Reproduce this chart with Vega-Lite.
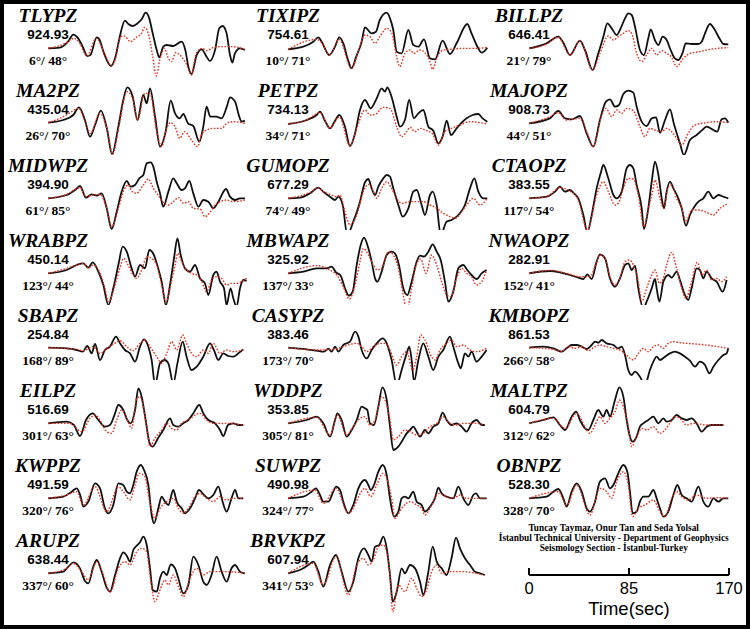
{
"$schema":"https://vega.github.io/schema/vega-lite/v6.json",
"background":"black",
"padding":4,
"config":{"view":{"fill":"white","stroke":null},"line":{"interpolate":"monotone"},"text":{"baseline":"alphabetic","fontWeight":"bold","align":"center"}},
"datasets":{
"lab":[{"p":"TLYPZ","a":"924.93","z":"6°/ 48°"},{"p":"TIXIPZ","a":"754.61","z":"10°/ 71°"},{"p":"BILLPZ","a":"646.41","z":"21°/ 79°"},{"p":"MA2PZ","a":"435.04","z":"26°/ 70°"},{"p":"PETPZ","a":"734.13","z":"34°/ 71°"},{"p":"MAJOPZ","a":"908.73","z":"44°/ 51°"},{"p":"MIDWPZ","a":"394.90","z":"61°/ 85°"},{"p":"GUMOPZ","a":"677.29","z":"74°/ 49°"},{"p":"CTAOPZ","a":"383.55","z":"117°/ 54°"},{"p":"WRABPZ","a":"450.14","z":"123°/ 44°"},{"p":"MBWAPZ","a":"325.92","z":"137°/ 33°"},{"p":"NWAOPZ","a":"282.91","z":"152°/ 41°"},{"p":"SBAPZ","a":"254.84","z":"168°/ 89°"},{"p":"CASYPZ","a":"383.46","z":"173°/ 70°"},{"p":"KMBOPZ","a":"861.53","z":"266°/ 58°"},{"p":"EILPZ","a":"516.69","z":"301°/ 63°"},{"p":"WDDPZ","a":"353.85","z":"305°/ 81°"},{"p":"MALTPZ","a":"604.79","z":"312°/ 62°"},{"p":"KWPPZ","a":"491.59","z":"320°/ 76°"},{"p":"SUWPZ","a":"490.98","z":"324°/ 77°"},{"p":"OBNPZ","a":"528.30","z":"328°/ 70°"},{"p":"ARUPZ","a":"638.44","z":"337°/ 60°"},{"p":"BRVKPZ","a":"607.94","z":"341°/ 53°"}],
"span":[{"a":0,"b":170}],
"bar":[{"tk":0,"lab":"0"},{"tk":85,"lab":"85"},{"tk":170,"lab":"170"}],
"ax":[{"s":"Time(sec)"}],
"cr":[{"n":1,"s":"Tuncay Taymaz, Onur Tan and Seda Yolsal"},{"n":2,"s":"İstanbul Technical University - Department of Geophysics"},{"n":3,"s":"Seismology Section - İstanbul-Turkey"}],
"TLYPZo":[{"t":0,"v":-1},{"t":10,"v":1},{"t":17,"v":19},{"t":21.5,"v":40},{"t":25,"v":32},{"t":29.5,"v":4},{"t":33.4,"v":-24},{"t":36,"v":-21},{"t":41.4,"v":32},{"t":43.6,"v":26},{"t":47.6,"v":-16},{"t":53.5,"v":-54},{"t":57,"v":-31},{"t":61,"v":34},{"t":65.4,"v":82},{"t":68.3,"v":72},{"t":72,"v":66},{"t":75.4,"v":72},{"t":79.6,"v":86},{"t":83,"v":106},{"t":85.8,"v":92},{"t":89,"v":44},{"t":92.4,"v":-6},{"t":94.6,"v":-28},{"t":98,"v":4},{"t":100.9,"v":9},{"t":106.5,"v":6},{"t":113.6,"v":19},{"t":116.7,"v":-6},{"t":119.6,"v":-61},{"t":122,"v":-78},{"t":126.4,"v":-21},{"t":130.6,"v":-4},{"t":134.8,"v":-26},{"t":137.7,"v":-39},{"t":142,"v":-6},{"t":145.6,"v":59},{"t":148.4,"v":66},{"t":151.8,"v":44},{"t":154.7,"v":-21},{"t":156.7,"v":-44},{"t":158.9,"v":-16},{"t":163.2,"v":-1},{"t":167.4,"v":-6}],
"TLYPZs":[{"t":0,"v":-1},{"t":16,"v":16},{"t":22,"v":29},{"t":27,"v":14},{"t":33,"v":-24},{"t":41,"v":29},{"t":48,"v":-16},{"t":54,"v":-54},{"t":57,"v":-36},{"t":62,"v":34},{"t":65,"v":36},{"t":70,"v":19},{"t":75,"v":32},{"t":80,"v":47},{"t":82,"v":62},{"t":86,"v":34},{"t":89,"v":-26},{"t":92,"v":-84},{"t":95,"v":-36},{"t":99,"v":-1},{"t":102,"v":-28},{"t":105,"v":-41},{"t":108.5,"v":-14},{"t":113,"v":-24},{"t":118,"v":-51},{"t":122,"v":-81},{"t":126,"v":-16},{"t":131,"v":-1},{"t":135,"v":-8},{"t":140,"v":1},{"t":146,"v":4},{"t":157,"v":4},{"t":167,"v":-4}],
"MA2PZo":[{"t":0,"v":1},{"t":13,"v":9},{"t":21.5,"v":24},{"t":26.3,"v":47},{"t":31.4,"v":9},{"t":35.7,"v":-41},{"t":40,"v":-6},{"t":45,"v":37},{"t":50,"v":-16},{"t":54.4,"v":-93},{"t":59.8,"v":-11},{"t":64,"v":69},{"t":67.4,"v":107},{"t":72,"v":79},{"t":76,"v":9},{"t":81,"v":84},{"t":83.9,"v":59},{"t":86.7,"v":104},{"t":91,"v":19},{"t":95.2,"v":-71},{"t":100,"v":-26},{"t":104.3,"v":67},{"t":108,"v":29},{"t":112,"v":14},{"t":115,"v":27},{"t":119,"v":-1},{"t":123.5,"v":-9},{"t":128.6,"v":-56},{"t":132,"v":-11},{"t":134.8,"v":49},{"t":138,"v":19},{"t":143,"v":19},{"t":147.6,"v":14},{"t":152,"v":49},{"t":154.7,"v":77},{"t":159,"v":64},{"t":162.6,"v":19},{"t":164.6,"v":4},{"t":167.4,"v":7}],
"MA2PZs":[{"t":0,"v":1},{"t":13,"v":19},{"t":20,"v":34},{"t":26,"v":44},{"t":31,"v":9},{"t":36,"v":-31},{"t":44,"v":29},{"t":50,"v":-16},{"t":55,"v":-93},{"t":60,"v":-16},{"t":67,"v":94},{"t":72.5,"v":69},{"t":76,"v":9},{"t":82.4,"v":89},{"t":86.7,"v":89},{"t":92.4,"v":-26},{"t":96.6,"v":-71},{"t":100.9,"v":-16},{"t":104,"v":1},{"t":108,"v":-11},{"t":112,"v":-46},{"t":116,"v":-26},{"t":122,"v":-51},{"t":127,"v":-71},{"t":131,"v":-31},{"t":135,"v":-21},{"t":140.5,"v":-16},{"t":147.6,"v":-16},{"t":152,"v":-1},{"t":157.5,"v":4},{"t":167.4,"v":-1}],
"TIXIPZo":[{"t":0,"v":-4},{"t":13,"v":4},{"t":21.5,"v":19},{"t":25.8,"v":32},{"t":28.6,"v":19},{"t":35,"v":-21},{"t":40,"v":4},{"t":43.6,"v":32},{"t":47,"v":14},{"t":51,"v":-36},{"t":54,"v":-61},{"t":58,"v":-26},{"t":62.6,"v":19},{"t":65.4,"v":62},{"t":71,"v":44},{"t":74.8,"v":49},{"t":78,"v":84},{"t":83.9,"v":106},{"t":86.7,"v":89},{"t":89.5,"v":54},{"t":92.4,"v":-11},{"t":96.6,"v":-16},{"t":102.3,"v":54},{"t":106.5,"v":9},{"t":110.8,"v":4},{"t":115.6,"v":26},{"t":120.7,"v":-31},{"t":125,"v":-34},{"t":131.4,"v":22},{"t":137.7,"v":-18},{"t":143.3,"v":14},{"t":152.4,"v":72},{"t":156,"v":44},{"t":160.3,"v":9},{"t":164.6,"v":-14},{"t":169.4,"v":1}],
"TIXIPZs":[{"t":0,"v":-4},{"t":24.4,"v":26},{"t":28.6,"v":16},{"t":35,"v":-21},{"t":43.6,"v":26},{"t":54,"v":-61},{"t":61,"v":4},{"t":65.4,"v":39},{"t":69.7,"v":34},{"t":74,"v":14},{"t":78,"v":34},{"t":83.9,"v":59},{"t":88,"v":47},{"t":92.4,"v":-26},{"t":95,"v":-56},{"t":99.4,"v":-16},{"t":103.7,"v":-6},{"t":107,"v":-16},{"t":112,"v":-6},{"t":116.4,"v":-14},{"t":120.7,"v":-41},{"t":123,"v":-64},{"t":126.4,"v":-31},{"t":132,"v":-6},{"t":137.7,"v":-4},{"t":149,"v":-1},{"t":160.3,"v":-1},{"t":169.4,"v":2}],
"PETPZo":[{"t":0,"v":-3},{"t":15.9,"v":9},{"t":24.4,"v":24},{"t":27.2,"v":34},{"t":31.4,"v":7},{"t":35.7,"v":-16},{"t":40,"v":7},{"t":43.6,"v":24},{"t":48.4,"v":-11},{"t":52.7,"v":-69},{"t":57,"v":-31},{"t":61.2,"v":39},{"t":65.4,"v":69},{"t":70.3,"v":44},{"t":75.4,"v":74},{"t":79.6,"v":104},{"t":82.4,"v":94},{"t":84.4,"v":107},{"t":88,"v":79},{"t":92.4,"v":19},{"t":95.2,"v":-11},{"t":99.4,"v":9},{"t":103,"v":69},{"t":107,"v":14},{"t":110.8,"v":29},{"t":115,"v":39},{"t":119.3,"v":-11},{"t":123.5,"v":-23},{"t":127.8,"v":-61},{"t":131.4,"v":-41},{"t":134.9,"v":7},{"t":138.5,"v":-36},{"t":143.3,"v":-16},{"t":151.8,"v":14},{"t":157,"v":24},{"t":161.8,"v":27},{"t":165.4,"v":14},{"t":169.4,"v":4}],
"PETPZs":[{"t":0,"v":-3},{"t":15.9,"v":9},{"t":27.2,"v":31},{"t":35.7,"v":-16},{"t":43.6,"v":19},{"t":52.7,"v":-69},{"t":58.4,"v":-16},{"t":65.4,"v":39},{"t":69.7,"v":24},{"t":74.8,"v":27},{"t":80.5,"v":47},{"t":86.7,"v":44},{"t":92.4,"v":-11},{"t":96.6,"v":-41},{"t":100.9,"v":-26},{"t":103.7,"v":-13},{"t":108,"v":-26},{"t":112.2,"v":-16},{"t":117.8,"v":-23},{"t":123,"v":-33},{"t":127.8,"v":-66},{"t":133.4,"v":-26},{"t":139,"v":-16},{"t":146.2,"v":-6},{"t":154.7,"v":4},{"t":163.2,"v":1},{"t":169.4,"v":-3}],
"BILLPZo":[{"t":0,"v":-1},{"t":15,"v":14},{"t":24.9,"v":34},{"t":29.2,"v":16},{"t":34.8,"v":-21},{"t":43.3,"v":22},{"t":47.6,"v":-6},{"t":54.1,"v":-66},{"t":58.9,"v":-16},{"t":63.2,"v":34},{"t":66.6,"v":74},{"t":70.3,"v":59},{"t":74.5,"v":39},{"t":77.9,"v":59},{"t":81.6,"v":89},{"t":84.4,"v":104},{"t":87.3,"v":99},{"t":90.1,"v":64},{"t":94.3,"v":-6},{"t":97.7,"v":-21},{"t":101.4,"v":29},{"t":103.4,"v":56},{"t":107,"v":24},{"t":110,"v":9},{"t":113.6,"v":34},{"t":117,"v":24},{"t":120.4,"v":-6},{"t":124,"v":-31},{"t":127,"v":-36},{"t":130.6,"v":-14},{"t":133.2,"v":14},{"t":138.2,"v":12},{"t":144,"v":12},{"t":146.8,"v":19},{"t":149.6,"v":44},{"t":153.8,"v":72},{"t":158,"v":54},{"t":162.3,"v":26},{"t":165.2,"v":12},{"t":169.4,"v":11}],
"BILLPZs":[{"t":0,"v":-1},{"t":15,"v":12},{"t":24.9,"v":32},{"t":34.8,"v":-21},{"t":43.3,"v":22},{"t":54.1,"v":-66},{"t":60.3,"v":-16},{"t":67.4,"v":36},{"t":71.7,"v":24},{"t":75.9,"v":34},{"t":80.2,"v":44},{"t":84.4,"v":52},{"t":87.3,"v":44},{"t":91.5,"v":-16},{"t":95.8,"v":-41},{"t":100,"v":-21},{"t":104.3,"v":-1},{"t":108.5,"v":-21},{"t":112.8,"v":-8},{"t":117,"v":-16},{"t":121.3,"v":-28},{"t":125.5,"v":-56},{"t":131.2,"v":-31},{"t":136.8,"v":-16},{"t":145.3,"v":-11},{"t":153.8,"v":-4},{"t":169.4,"v":1}],
"MAJOPZo":[{"t":0,"v":-1},{"t":17.8,"v":14},{"t":24.9,"v":36},{"t":30.6,"v":14},{"t":36.3,"v":11},{"t":43.3,"v":21},{"t":49,"v":-31},{"t":54.7,"v":-71},{"t":60.3,"v":9},{"t":65.4,"v":64},{"t":68.8,"v":71},{"t":73.1,"v":49},{"t":76.5,"v":54},{"t":80.2,"v":87},{"t":84.4,"v":97},{"t":88.7,"v":91},{"t":91.5,"v":49},{"t":95.8,"v":4},{"t":100,"v":-9},{"t":104.3,"v":14},{"t":108,"v":17},{"t":111.3,"v":-29},{"t":115.6,"v":9},{"t":119.8,"v":41},{"t":123.2,"v":-3},{"t":128.3,"v":-61},{"t":131.7,"v":-96},{"t":136.8,"v":-51},{"t":142.5,"v":-36},{"t":146.7,"v":-23},{"t":151,"v":-11},{"t":156.7,"v":-21},{"t":160,"v":-26},{"t":163.7,"v":11},{"t":166.6,"v":14},{"t":169.4,"v":1}],
"MAJOPZs":[{"t":0,"v":-1},{"t":17.8,"v":19},{"t":24.9,"v":31},{"t":32,"v":9},{"t":43.3,"v":14},{"t":49.6,"v":-31},{"t":54.7,"v":-71},{"t":61.8,"v":24},{"t":65.4,"v":44},{"t":70.3,"v":19},{"t":74.5,"v":39},{"t":78.8,"v":29},{"t":83,"v":44},{"t":88.7,"v":37},{"t":94.3,"v":-11},{"t":98.6,"v":-41},{"t":102.8,"v":-16},{"t":108.5,"v":-23},{"t":112.8,"v":-26},{"t":117,"v":-16},{"t":121.3,"v":-26},{"t":125.5,"v":-46},{"t":129.8,"v":-66},{"t":135.4,"v":-31},{"t":141,"v":-6},{"t":151,"v":1},{"t":159.5,"v":4},{"t":169.4,"v":1}],
"MIDWPZo":[{"t":0,"v":-1},{"t":15.9,"v":9},{"t":23,"v":24},{"t":27.2,"v":36},{"t":32.3,"v":1},{"t":37.1,"v":11},{"t":41.4,"v":7},{"t":45.6,"v":14},{"t":49.9,"v":-31},{"t":54.1,"v":-93},{"t":58.4,"v":-41},{"t":62.6,"v":19},{"t":66.9,"v":51},{"t":70.3,"v":34},{"t":74,"v":39},{"t":77.6,"v":59},{"t":81,"v":69},{"t":83.9,"v":104},{"t":87.3,"v":107},{"t":89.5,"v":94},{"t":92.4,"v":49},{"t":95.2,"v":14},{"t":98,"v":-26},{"t":102.3,"v":19},{"t":106.5,"v":59},{"t":109.4,"v":44},{"t":113.6,"v":24},{"t":116.4,"v":29},{"t":120.1,"v":51},{"t":123.5,"v":14},{"t":127.8,"v":-26},{"t":132,"v":-6},{"t":136.3,"v":-11},{"t":140.5,"v":-31},{"t":144.8,"v":-11},{"t":151.3,"v":27},{"t":154.7,"v":4},{"t":159,"v":-6},{"t":163.2,"v":-1},{"t":167.4,"v":-1}],
"MIDWPZs":[{"t":0,"v":-1},{"t":15.9,"v":11},{"t":27.2,"v":31},{"t":32.3,"v":4},{"t":38.5,"v":9},{"t":44.2,"v":11},{"t":49.9,"v":-31},{"t":54.1,"v":-86},{"t":59.8,"v":-31},{"t":64.6,"v":24},{"t":68.3,"v":39},{"t":71,"v":21},{"t":75.4,"v":14},{"t":81,"v":39},{"t":85.3,"v":57},{"t":89.5,"v":29},{"t":93.5,"v":9},{"t":98,"v":-13},{"t":102.3,"v":-21},{"t":106.5,"v":-11},{"t":110.8,"v":1},{"t":115,"v":-16},{"t":119.3,"v":-11},{"t":123.5,"v":-31},{"t":129.2,"v":-33},{"t":133.4,"v":-56},{"t":137.7,"v":-43},{"t":142,"v":-21},{"t":146.2,"v":-11},{"t":151.8,"v":-6},{"t":157.5,"v":-11},{"t":167.4,"v":-6}],
"GUMOPZo":[{"t":0,"v":-1},{"t":10.2,"v":1},{"t":18.7,"v":14},{"t":25.8,"v":31},{"t":30,"v":19},{"t":35.7,"v":4},{"t":40,"v":-6},{"t":42.8,"v":4},{"t":46.5,"v":-21},{"t":50.4,"v":-111},{"t":55.5,"v":-71},{"t":61.2,"v":-11},{"t":65.4,"v":47},{"t":68.3,"v":57},{"t":71.1,"v":29},{"t":74,"v":9},{"t":76.8,"v":34},{"t":81,"v":59},{"t":83.9,"v":69},{"t":86.7,"v":64},{"t":89.5,"v":29},{"t":93.8,"v":-21},{"t":97.5,"v":-56},{"t":102.3,"v":-31},{"t":106.5,"v":19},{"t":109.4,"v":24},{"t":113.6,"v":-21},{"t":116.4,"v":-51},{"t":120.7,"v":9},{"t":123,"v":19},{"t":126.4,"v":-21},{"t":129.8,"v":-111},{"t":134.8,"v":-71},{"t":139,"v":-66},{"t":144.8,"v":-51},{"t":150.4,"v":-21},{"t":154.7,"v":29},{"t":158.4,"v":59},{"t":161.8,"v":19},{"t":166,"v":-1},{"t":169.4,"v":-1}],
"GUMOPZs":[{"t":0,"v":-1},{"t":18.7,"v":17},{"t":25.8,"v":31},{"t":30,"v":19},{"t":35.7,"v":11},{"t":41.4,"v":4},{"t":44.2,"v":9},{"t":48.4,"v":-41},{"t":52.7,"v":-81},{"t":58.4,"v":-51},{"t":64,"v":19},{"t":68.3,"v":41},{"t":72.5,"v":19},{"t":75.4,"v":-1},{"t":79.6,"v":29},{"t":83.9,"v":49},{"t":88,"v":29},{"t":92.4,"v":-1},{"t":96.6,"v":-16},{"t":103.7,"v":-11},{"t":109.4,"v":-11},{"t":115,"v":-11},{"t":120.7,"v":-21},{"t":126.4,"v":-31},{"t":132,"v":-46},{"t":137.7,"v":-56},{"t":142,"v":-61},{"t":147.6,"v":-41},{"t":151.8,"v":-21},{"t":157.5,"v":-1},{"t":163.2,"v":-21},{"t":169.4,"v":-1}],
"CTAOPZo":[{"t":0,"v":-1},{"t":15,"v":4},{"t":22.1,"v":19},{"t":26.3,"v":34},{"t":30.6,"v":19},{"t":34.8,"v":24},{"t":38.2,"v":14},{"t":41.9,"v":-1},{"t":46.2,"v":-51},{"t":49.6,"v":-103},{"t":53.3,"v":-51},{"t":57.5,"v":29},{"t":60.9,"v":74},{"t":63.2,"v":99},{"t":67.4,"v":59},{"t":71.7,"v":9},{"t":74.5,"v":-1},{"t":78.8,"v":19},{"t":83,"v":89},{"t":85.8,"v":99},{"t":88.7,"v":89},{"t":91.5,"v":39},{"t":95.8,"v":-31},{"t":97.7,"v":-93},{"t":101.4,"v":-31},{"t":104.3,"v":49},{"t":107.1,"v":109},{"t":110,"v":69},{"t":112.8,"v":-1},{"t":114.7,"v":-31},{"t":117,"v":19},{"t":119.8,"v":49},{"t":122.7,"v":29},{"t":126.9,"v":-1},{"t":129.8,"v":-31},{"t":133.4,"v":-83},{"t":136.8,"v":-51},{"t":139.7,"v":-31},{"t":144,"v":-11},{"t":148.2,"v":-1},{"t":152.4,"v":19},{"t":156.7,"v":-1},{"t":161,"v":9},{"t":165.2,"v":4},{"t":169.4,"v":-1}],
"CTAOPZs":[{"t":0,"v":-1},{"t":15,"v":4},{"t":26.3,"v":31},{"t":34.8,"v":21},{"t":41.9,"v":-6},{"t":49.6,"v":-96},{"t":57.5,"v":9},{"t":63.2,"v":49},{"t":67.4,"v":19},{"t":73.1,"v":-21},{"t":75.9,"v":-16},{"t":80.2,"v":29},{"t":84.4,"v":59},{"t":88.7,"v":57},{"t":92.9,"v":9},{"t":97.7,"v":-86},{"t":101.4,"v":-31},{"t":105.1,"v":19},{"t":107.1,"v":54},{"t":111.3,"v":-1},{"t":114.7,"v":-31},{"t":118.4,"v":34},{"t":121.3,"v":39},{"t":125.5,"v":-1},{"t":129.8,"v":-31},{"t":133.4,"v":-71},{"t":138.2,"v":-36},{"t":144,"v":-36},{"t":149.6,"v":-41},{"t":156.7,"v":-51},{"t":162.3,"v":-31},{"t":169.4,"v":-16}],
"WRABPZo":[{"t":0,"v":-1},{"t":15.9,"v":9},{"t":24.4,"v":24},{"t":30,"v":29},{"t":34.3,"v":16},{"t":38,"v":32},{"t":42.8,"v":4},{"t":47,"v":-36},{"t":51.3,"v":-96},{"t":55.5,"v":-46},{"t":59.8,"v":24},{"t":63.5,"v":79},{"t":66.9,"v":64},{"t":71.1,"v":14},{"t":74,"v":-11},{"t":78.2,"v":24},{"t":82.4,"v":14},{"t":86.1,"v":69},{"t":90,"v":54},{"t":92.8,"v":24},{"t":96.6,"v":-26},{"t":100.3,"v":-96},{"t":103.7,"v":-36},{"t":107.1,"v":44},{"t":110,"v":104},{"t":112.8,"v":54},{"t":116.4,"v":14},{"t":120.7,"v":4},{"t":125,"v":24},{"t":129.2,"v":-16},{"t":133.4,"v":-31},{"t":136.3,"v":-66},{"t":140.5,"v":-6},{"t":143.3,"v":4},{"t":146.2,"v":-26},{"t":149.6,"v":-46},{"t":151.8,"v":-96},{"t":155.2,"v":-46},{"t":157.5,"v":-76},{"t":160.3,"v":-101},{"t":163.2,"v":-46},{"t":166,"v":-21},{"t":168.8,"v":-24}],
"WRABPZs":[{"t":0,"v":-1},{"t":15.9,"v":14},{"t":24.4,"v":24},{"t":30,"v":29},{"t":34.3,"v":14},{"t":38.5,"v":24},{"t":44.2,"v":-1},{"t":48.4,"v":-46},{"t":51.3,"v":-86},{"t":57,"v":-36},{"t":61,"v":14},{"t":64.3,"v":44},{"t":68,"v":24},{"t":72.5,"v":-6},{"t":75.4,"v":-16},{"t":79.6,"v":9},{"t":83.9,"v":49},{"t":88,"v":44},{"t":92.4,"v":24},{"t":96.6,"v":-36},{"t":100.3,"v":-86},{"t":104.3,"v":-36},{"t":108,"v":24},{"t":110.3,"v":59},{"t":113.6,"v":34},{"t":117.8,"v":9},{"t":122,"v":-1},{"t":126.4,"v":-6},{"t":130.6,"v":-26},{"t":134.8,"v":-56},{"t":139,"v":-21},{"t":143.3,"v":-11},{"t":147.6,"v":-16},{"t":151.8,"v":-36},{"t":156,"v":-31},{"t":160.3,"v":-31},{"t":164.6,"v":-26},{"t":168.8,"v":-16}],
"MBWAPZo":[{"t":0,"v":-1},{"t":13,"v":4},{"t":24.4,"v":14},{"t":32.9,"v":14},{"t":37.1,"v":19},{"t":40.8,"v":2},{"t":44.8,"v":-8},{"t":48.4,"v":-46},{"t":51.8,"v":-68},{"t":55,"v":-56},{"t":58.4,"v":24},{"t":61.8,"v":84},{"t":64.6,"v":106},{"t":68.3,"v":74},{"t":71.1,"v":34},{"t":74,"v":-16},{"t":75.9,"v":-26},{"t":79.6,"v":4},{"t":83.9,"v":54},{"t":88,"v":64},{"t":90.9,"v":59},{"t":94.3,"v":24},{"t":98,"v":-46},{"t":101.4,"v":-66},{"t":105.1,"v":-26},{"t":109.4,"v":34},{"t":112.2,"v":52},{"t":115.6,"v":49},{"t":119.3,"v":64},{"t":123,"v":86},{"t":126.4,"v":64},{"t":129.8,"v":39},{"t":133.4,"v":-26},{"t":136.3,"v":-86},{"t":140.5,"v":-56},{"t":144.8,"v":14},{"t":149,"v":24},{"t":152.4,"v":9},{"t":156,"v":-6},{"t":160.3,"v":-18},{"t":164.6,"v":-1},{"t":168.8,"v":9}],
"MBWAPZs":[{"t":0,"v":-1},{"t":24.4,"v":22},{"t":35.7,"v":9},{"t":41.4,"v":-6},{"t":47,"v":-41},{"t":52.1,"v":-78},{"t":57,"v":-36},{"t":61.2,"v":34},{"t":64,"v":74},{"t":68.3,"v":54},{"t":72.5,"v":24},{"t":75.9,"v":9},{"t":79.6,"v":14},{"t":85.3,"v":64},{"t":89.5,"v":54},{"t":93.8,"v":14},{"t":98,"v":-66},{"t":100.9,"v":-111},{"t":105.1,"v":-46},{"t":109.4,"v":29},{"t":112.8,"v":42},{"t":117.3,"v":-1},{"t":122.1,"v":54},{"t":126.4,"v":24},{"t":130.6,"v":-26},{"t":134.8,"v":-66},{"t":138.2,"v":-71},{"t":143.3,"v":-16},{"t":147.6,"v":14},{"t":151.8,"v":-1},{"t":156,"v":-11},{"t":160.3,"v":-36},{"t":164.6,"v":-26},{"t":168.8,"v":9}],
"NWAOPZo":[{"t":0,"v":-1},{"t":17.8,"v":6},{"t":26.3,"v":2},{"t":34.8,"v":-6},{"t":41.9,"v":-14},{"t":46.2,"v":-18},{"t":49.6,"v":-4},{"t":53.3,"v":-18},{"t":57.5,"v":34},{"t":60.3,"v":56},{"t":64.6,"v":44},{"t":68.8,"v":-16},{"t":73.1,"v":-41},{"t":77.3,"v":-16},{"t":81.6,"v":24},{"t":84.4,"v":29},{"t":87.3,"v":9},{"t":90.1,"v":22},{"t":92.9,"v":-46},{"t":97.2,"v":-106},{"t":100,"v":-86},{"t":104.3,"v":-46},{"t":107.1,"v":-18},{"t":108.5,"v":-46},{"t":110.8,"v":-86},{"t":114.2,"v":-26},{"t":118.4,"v":-6},{"t":121.3,"v":-14},{"t":125.5,"v":4},{"t":128.3,"v":-21},{"t":132.6,"v":-66},{"t":135.4,"v":-81},{"t":138.2,"v":-46},{"t":142.5,"v":14},{"t":145.3,"v":9},{"t":148.2,"v":-16},{"t":151,"v":4},{"t":155.2,"v":-16},{"t":159.5,"v":-26},{"t":164.6,"v":-56},{"t":168,"v":-21}],
"NWAOPZs":[{"t":0,"v":-1},{"t":17.8,"v":8},{"t":32,"v":-1},{"t":43.3,"v":-11},{"t":51.8,"v":-11},{"t":57.5,"v":34},{"t":60.3,"v":54},{"t":64.6,"v":44},{"t":68.8,"v":-11},{"t":73.1,"v":-36},{"t":77.3,"v":-16},{"t":81.6,"v":34},{"t":85.3,"v":39},{"t":88.7,"v":24},{"t":92.9,"v":-26},{"t":95.8,"v":-86},{"t":100,"v":-46},{"t":104.3,"v":-6},{"t":107.1,"v":9},{"t":110.8,"v":-31},{"t":114.2,"v":-16},{"t":117,"v":24},{"t":121.3,"v":62},{"t":125.5,"v":14},{"t":129.8,"v":-46},{"t":133.4,"v":-76},{"t":138.2,"v":-26},{"t":143,"v":32},{"t":146.8,"v":-6},{"t":151,"v":9},{"t":155.2,"v":-21},{"t":159.5,"v":-16},{"t":163.7,"v":-26},{"t":168,"v":-11}],
"SBAPZo":[{"t":0,"v":1},{"t":15.9,"v":-1},{"t":24.4,"v":-6},{"t":29.5,"v":-11},{"t":33.4,"v":6},{"t":37.1,"v":-16},{"t":40,"v":12},{"t":44.2,"v":-36},{"t":48.4,"v":-6},{"t":52.7,"v":4},{"t":57.8,"v":34},{"t":61.2,"v":14},{"t":65.4,"v":-6},{"t":69.7,"v":-16},{"t":74,"v":-41},{"t":78.2,"v":4},{"t":81.6,"v":26},{"t":85.3,"v":4},{"t":88.1,"v":-36},{"t":91,"v":-111},{"t":95.2,"v":-46},{"t":99.2,"v":-36},{"t":102.3,"v":-46},{"t":106.5,"v":-106},{"t":110,"v":-46},{"t":114.5,"v":19},{"t":117.8,"v":-26},{"t":122,"v":-66},{"t":126.4,"v":-56},{"t":132,"v":-26},{"t":137.7,"v":14},{"t":141,"v":-6},{"t":144.8,"v":-36},{"t":149,"v":-16},{"t":153.3,"v":-24},{"t":157.5,"v":-26},{"t":161.8,"v":-16},{"t":166,"v":-4}],
"SBAPZs":[{"t":0,"v":1},{"t":24.4,"v":-4},{"t":30,"v":-8},{"t":38.5,"v":4},{"t":44.2,"v":-16},{"t":49.9,"v":-1},{"t":56.7,"v":14},{"t":61.2,"v":22},{"t":66.9,"v":4},{"t":72.5,"v":-8},{"t":78.2,"v":14},{"t":82.4,"v":24},{"t":86.7,"v":4},{"t":92.4,"v":-26},{"t":96.6,"v":-46},{"t":100.9,"v":-16},{"t":105.1,"v":19},{"t":109.4,"v":-6},{"t":114.5,"v":39},{"t":117.8,"v":14},{"t":122,"v":-16},{"t":126.4,"v":-26},{"t":132,"v":-6},{"t":136.3,"v":-16},{"t":140.5,"v":14},{"t":146.2,"v":-16},{"t":151.8,"v":-6},{"t":157.5,"v":-11},{"t":166,"v":-6}],
"EILPZo":[{"t":0,"v":-1},{"t":15.9,"v":4},{"t":22,"v":-6},{"t":27.2,"v":-39},{"t":32.3,"v":9},{"t":38,"v":29},{"t":42.8,"v":9},{"t":48.4,"v":-11},{"t":52.7,"v":-6},{"t":57,"v":29},{"t":59.8,"v":54},{"t":64,"v":39},{"t":67.4,"v":9},{"t":70.3,"v":-1},{"t":74,"v":39},{"t":76.8,"v":104},{"t":79.6,"v":79},{"t":83,"v":9},{"t":86.4,"v":-61},{"t":89,"v":-71},{"t":93.5,"v":-46},{"t":98,"v":-21},{"t":103.7,"v":14},{"t":106.5,"v":-6},{"t":110.8,"v":-11},{"t":115,"v":-1},{"t":119.3,"v":9},{"t":123.5,"v":29},{"t":128.6,"v":54},{"t":132,"v":29},{"t":136.3,"v":9},{"t":142,"v":-1},{"t":146.2,"v":-21},{"t":149,"v":-39},{"t":153,"v":-6},{"t":157.5,"v":-1},{"t":161.8,"v":-6},{"t":166,"v":-6}],
"EILPZs":[{"t":0,"v":-1},{"t":18.4,"v":-1},{"t":28.6,"v":-26},{"t":35.7,"v":14},{"t":40,"v":24},{"t":44.2,"v":9},{"t":49.9,"v":-26},{"t":54.1,"v":-31},{"t":58.4,"v":9},{"t":62.6,"v":39},{"t":66.9,"v":14},{"t":71.1,"v":-16},{"t":75.4,"v":74},{"t":78.2,"v":79},{"t":83.9,"v":-11},{"t":86.7,"v":-71},{"t":90.9,"v":-46},{"t":96.6,"v":-21},{"t":100.9,"v":-1},{"t":105.1,"v":-16},{"t":109.4,"v":-21},{"t":113.6,"v":-1},{"t":119.3,"v":9},{"t":125,"v":24},{"t":129.2,"v":29},{"t":134.8,"v":9},{"t":140.5,"v":-1},{"t":151.8,"v":-1},{"t":166,"v":-6}],
"CASYPZo":[{"t":0,"v":1},{"t":15.9,"v":-4},{"t":24.4,"v":-8},{"t":30.6,"v":-11},{"t":34.3,"v":-2},{"t":37.1,"v":-11},{"t":40,"v":4},{"t":42.8,"v":-11},{"t":47,"v":9},{"t":52.7,"v":19},{"t":57,"v":49},{"t":59.8,"v":34},{"t":62.6,"v":-6},{"t":66.9,"v":-31},{"t":71.1,"v":-6},{"t":75.4,"v":14},{"t":80.5,"v":29},{"t":83.9,"v":14},{"t":88.1,"v":-36},{"t":92.4,"v":-111},{"t":96.6,"v":-66},{"t":100.9,"v":-16},{"t":103.1,"v":4},{"t":105.1,"v":-36},{"t":107.1,"v":-101},{"t":110.8,"v":-36},{"t":115,"v":14},{"t":119.3,"v":-26},{"t":123.5,"v":-66},{"t":127.8,"v":-26},{"t":132,"v":-6},{"t":137.7,"v":34},{"t":140.5,"v":4},{"t":144.8,"v":-46},{"t":146.8,"v":-61},{"t":150.4,"v":-16},{"t":153.3,"v":-26},{"t":156.1,"v":-11},{"t":160.3,"v":-41},{"t":164.6,"v":-26},{"t":168.8,"v":-6}],
"CASYPZs":[{"t":0,"v":1},{"t":24.4,"v":-6},{"t":38.5,"v":-4},{"t":47,"v":4},{"t":52.7,"v":11},{"t":58.4,"v":14},{"t":62.6,"v":4},{"t":66.9,"v":-11},{"t":72.5,"v":4},{"t":78.2,"v":14},{"t":82.4,"v":14},{"t":86.7,"v":-6},{"t":92.4,"v":-51},{"t":96.6,"v":-26},{"t":100.9,"v":-11},{"t":106,"v":-66},{"t":109.4,"v":-26},{"t":112.8,"v":39},{"t":116.4,"v":24},{"t":122,"v":-26},{"t":125,"v":-36},{"t":129.2,"v":-6},{"t":134.8,"v":14},{"t":139,"v":24},{"t":143.3,"v":4},{"t":149,"v":9},{"t":154.7,"v":-6},{"t":160.3,"v":-11},{"t":166,"v":-6},{"t":168.8,"v":-1}],
"WDDPZo":[{"t":0,"v":-1},{"t":15.9,"v":9},{"t":24.4,"v":19},{"t":30,"v":-1},{"t":35.7,"v":-41},{"t":40,"v":9},{"t":41.9,"v":29},{"t":45.6,"v":9},{"t":49.9,"v":-41},{"t":54.1,"v":-21},{"t":58.4,"v":9},{"t":62.6,"v":49},{"t":65.4,"v":44},{"t":67.4,"v":39},{"t":69.7,"v":-1},{"t":73.1,"v":-6},{"t":76.8,"v":49},{"t":80.2,"v":107},{"t":83.9,"v":69},{"t":86.7,"v":-11},{"t":89.5,"v":-81},{"t":93.8,"v":-71},{"t":97.5,"v":-51},{"t":100.9,"v":-31},{"t":103.7,"v":-21},{"t":106.5,"v":-11},{"t":109.4,"v":-26},{"t":112.2,"v":-41},{"t":116.4,"v":-21},{"t":119.3,"v":-31},{"t":123.5,"v":-11},{"t":127.8,"v":-1},{"t":131.4,"v":31},{"t":134.8,"v":9},{"t":139,"v":-6},{"t":143.3,"v":-1},{"t":147.6,"v":-11},{"t":151.8,"v":-26},{"t":156,"v":-1},{"t":160.3,"v":9},{"t":164.6,"v":-6},{"t":167.4,"v":-6}],
"WDDPZs":[{"t":0,"v":-1},{"t":24.4,"v":17},{"t":35.7,"v":-36},{"t":41.9,"v":24},{"t":49.9,"v":-36},{"t":55.5,"v":-11},{"t":61.2,"v":14},{"t":65.4,"v":19},{"t":69.7,"v":-6},{"t":74,"v":9},{"t":79.6,"v":79},{"t":82.4,"v":69},{"t":86.7,"v":9},{"t":89.5,"v":-51},{"t":93.8,"v":-41},{"t":99.4,"v":-21},{"t":103.7,"v":-26},{"t":109.4,"v":-36},{"t":115,"v":-31},{"t":120.7,"v":-11},{"t":126.4,"v":-1},{"t":132,"v":19},{"t":137.7,"v":-1},{"t":143.3,"v":-6},{"t":149,"v":-1},{"t":160.3,"v":-1},{"t":167.4,"v":-6}],
"KMBOPZo":[{"t":0,"v":1},{"t":12.2,"v":4},{"t":20.7,"v":-1},{"t":27.8,"v":-11},{"t":32,"v":-1},{"t":36.3,"v":9},{"t":40.5,"v":9},{"t":44.8,"v":4},{"t":49,"v":-3},{"t":53.3,"v":9},{"t":56.1,"v":19},{"t":58.9,"v":16},{"t":61.8,"v":24},{"t":66,"v":14},{"t":71.7,"v":9},{"t":75.9,"v":-1},{"t":78.8,"v":4},{"t":81.6,"v":-21},{"t":84.4,"v":-66},{"t":87.3,"v":-81},{"t":90.1,"v":-71},{"t":94.3,"v":-86},{"t":98.6,"v":-111},{"t":102.8,"v":-66},{"t":105.7,"v":-41},{"t":108.5,"v":-26},{"t":111.3,"v":-36},{"t":115.6,"v":-26},{"t":119.8,"v":-16},{"t":124,"v":-11},{"t":128.3,"v":-16},{"t":132.6,"v":-26},{"t":136.8,"v":-38},{"t":141,"v":-56},{"t":145.3,"v":-41},{"t":149.6,"v":-51},{"t":153.3,"v":-76},{"t":156.7,"v":-56},{"t":161,"v":-36},{"t":165.2,"v":-21},{"t":168,"v":-16},{"t":169.4,"v":-1}],
"KMBOPZs":[{"t":0,"v":1},{"t":20.7,"v":-4},{"t":27.8,"v":-11},{"t":33.4,"v":4},{"t":39.1,"v":-1},{"t":44.8,"v":4},{"t":50.4,"v":-8},{"t":56.1,"v":4},{"t":60.3,"v":9},{"t":66,"v":4},{"t":71.7,"v":-1},{"t":77.3,"v":-6},{"t":83,"v":-21},{"t":88.7,"v":-36},{"t":92.9,"v":-16},{"t":97.2,"v":-1},{"t":101.4,"v":-11},{"t":105.7,"v":4},{"t":110,"v":9},{"t":114.2,"v":-1},{"t":118.4,"v":14},{"t":122.7,"v":19},{"t":128.3,"v":16},{"t":134,"v":14},{"t":145.3,"v":11},{"t":156.7,"v":6},{"t":169.4,"v":-1}],
"MALTPZo":[{"t":0,"v":-1},{"t":12.2,"v":9},{"t":20.7,"v":17},{"t":26.3,"v":-6},{"t":30.6,"v":-21},{"t":36.3,"v":19},{"t":40,"v":34},{"t":43.3,"v":9},{"t":47.6,"v":-16},{"t":50.4,"v":-21},{"t":54.7,"v":9},{"t":58.9,"v":39},{"t":63.2,"v":19},{"t":66,"v":39},{"t":68.8,"v":19},{"t":73.1,"v":69},{"t":76.8,"v":107},{"t":80.2,"v":79},{"t":83,"v":9},{"t":85.8,"v":-41},{"t":88.1,"v":-56},{"t":91.5,"v":-41},{"t":94.3,"v":-11},{"t":97.2,"v":-1},{"t":101.4,"v":9},{"t":105.7,"v":19},{"t":110,"v":-1},{"t":114.2,"v":14},{"t":117,"v":4},{"t":121.3,"v":9},{"t":125.5,"v":24},{"t":129.8,"v":14},{"t":134,"v":9},{"t":138.2,"v":14},{"t":142.5,"v":-1},{"t":146.8,"v":-26},{"t":151,"v":-11},{"t":155.2,"v":-6},{"t":159.5,"v":-6},{"t":165.2,"v":-6}],
"MALTPZs":[{"t":0,"v":-1},{"t":20.7,"v":14},{"t":30.6,"v":-16},{"t":40.5,"v":29},{"t":49,"v":-21},{"t":51.8,"v":-31},{"t":56.1,"v":-6},{"t":60.3,"v":19},{"t":64.6,"v":-1},{"t":68.8,"v":14},{"t":73.1,"v":34},{"t":76.8,"v":69},{"t":80.2,"v":49},{"t":84.4,"v":-11},{"t":87.3,"v":-71},{"t":91.5,"v":-41},{"t":95.8,"v":-16},{"t":100,"v":-21},{"t":105.7,"v":-11},{"t":111.3,"v":-31},{"t":115.6,"v":-21},{"t":119.8,"v":-1},{"t":124,"v":19},{"t":128.3,"v":14},{"t":134,"v":-6},{"t":139.7,"v":-1},{"t":151,"v":-6},{"t":165.2,"v":-6}],
"KWPPZo":[{"t":0,"v":-1},{"t":13,"v":4},{"t":20.1,"v":19},{"t":24.4,"v":29},{"t":27.8,"v":4},{"t":30,"v":-26},{"t":34.3,"v":-11},{"t":40,"v":44},{"t":44.2,"v":29},{"t":48.4,"v":-31},{"t":51.3,"v":-46},{"t":55.5,"v":-21},{"t":59.8,"v":44},{"t":64,"v":39},{"t":66.9,"v":19},{"t":69.7,"v":14},{"t":72.5,"v":39},{"t":75.4,"v":79},{"t":78.8,"v":99},{"t":81.6,"v":84},{"t":85.3,"v":39},{"t":88.1,"v":-51},{"t":90.1,"v":-76},{"t":93.8,"v":-31},{"t":96.6,"v":4},{"t":99.4,"v":-11},{"t":102.3,"v":-21},{"t":106.5,"v":24},{"t":109.4,"v":-11},{"t":113.6,"v":-31},{"t":116.4,"v":-46},{"t":120.7,"v":-31},{"t":125,"v":-1},{"t":128.3,"v":24},{"t":132.6,"v":9},{"t":136.3,"v":-1},{"t":140.5,"v":9},{"t":144.8,"v":34},{"t":148.4,"v":-11},{"t":151.8,"v":-41},{"t":156,"v":-1},{"t":159,"v":24},{"t":161.8,"v":-1},{"t":166,"v":-1}],
"KWPPZs":[{"t":0,"v":-1},{"t":15.9,"v":9},{"t":24.4,"v":19},{"t":30,"v":-21},{"t":40,"v":34},{"t":49.9,"v":-41},{"t":59.8,"v":34},{"t":64,"v":19},{"t":69.7,"v":-6},{"t":74,"v":39},{"t":77.6,"v":74},{"t":82.4,"v":64},{"t":86.4,"v":-11},{"t":91,"v":-61},{"t":95.2,"v":-31},{"t":100.9,"v":-11},{"t":106.5,"v":-1},{"t":110.8,"v":-31},{"t":115,"v":-46},{"t":119.3,"v":-31},{"t":125,"v":4},{"t":129.2,"v":14},{"t":134.8,"v":-1},{"t":140.5,"v":-11},{"t":146.2,"v":4},{"t":151.8,"v":-6},{"t":157.5,"v":-1},{"t":166,"v":-1}],
"SUWPZo":[{"t":0,"v":-1},{"t":13,"v":4},{"t":20.1,"v":19},{"t":23.8,"v":29},{"t":27.2,"v":9},{"t":30,"v":-11},{"t":34.3,"v":-11},{"t":38.5,"v":19},{"t":40.8,"v":34},{"t":44.2,"v":24},{"t":47,"v":-11},{"t":51.3,"v":-46},{"t":55.5,"v":-21},{"t":59.8,"v":29},{"t":65.4,"v":54},{"t":68.3,"v":39},{"t":70.3,"v":24},{"t":73.1,"v":39},{"t":76.8,"v":79},{"t":80.5,"v":99},{"t":83.9,"v":69},{"t":86.7,"v":-1},{"t":90.1,"v":-56},{"t":93.8,"v":-41},{"t":96.6,"v":-1},{"t":99.4,"v":4},{"t":102.3,"v":-1},{"t":106.5,"v":19},{"t":109.4,"v":-11},{"t":113.6,"v":-21},{"t":116.4,"v":-41},{"t":120.7,"v":-26},{"t":124.9,"v":-1},{"t":127.8,"v":31},{"t":130.6,"v":14},{"t":134.8,"v":4},{"t":140.5,"v":-1},{"t":144.8,"v":34},{"t":149,"v":-1},{"t":153.3,"v":-21},{"t":157.5,"v":9},{"t":159.8,"v":14},{"t":163.2,"v":-1},{"t":168.8,"v":-1}],
"SUWPZs":[{"t":0,"v":-1},{"t":22.9,"v":24},{"t":30,"v":-16},{"t":40.8,"v":29},{"t":51.3,"v":-46},{"t":65.4,"v":29},{"t":70.3,"v":4},{"t":75.4,"v":39},{"t":80.5,"v":74},{"t":83.9,"v":59},{"t":88.1,"v":-1},{"t":90.9,"v":-61},{"t":96.6,"v":-31},{"t":103.7,"v":-11},{"t":109.4,"v":-21},{"t":113.6,"v":-31},{"t":116.4,"v":-51},{"t":122.1,"v":-21},{"t":127.8,"v":14},{"t":134.8,"v":4},{"t":140.5,"v":-1},{"t":146.2,"v":9},{"t":151.8,"v":-1},{"t":160.3,"v":-1},{"t":168.8,"v":-1}],
"OBNPZo":[{"t":0,"v":-1},{"t":15,"v":4},{"t":20.7,"v":19},{"t":24.9,"v":27},{"t":29.2,"v":-1},{"t":32,"v":-26},{"t":36.3,"v":19},{"t":40.5,"v":44},{"t":44.8,"v":19},{"t":49,"v":-31},{"t":51.8,"v":-41},{"t":56.1,"v":-11},{"t":60.3,"v":49},{"t":64.6,"v":59},{"t":68.8,"v":29},{"t":71.7,"v":39},{"t":75.9,"v":74},{"t":80.2,"v":99},{"t":83.6,"v":79},{"t":85.8,"v":19},{"t":88.1,"v":-46},{"t":91.5,"v":-41},{"t":94.3,"v":-11},{"t":97.2,"v":4},{"t":101.4,"v":4},{"t":105.7,"v":24},{"t":108.5,"v":-1},{"t":111.3,"v":-31},{"t":114.2,"v":-56},{"t":118.4,"v":-41},{"t":122.7,"v":9},{"t":126.1,"v":39},{"t":129.8,"v":9},{"t":134,"v":-1},{"t":138.2,"v":-11},{"t":144,"v":34},{"t":148.2,"v":-11},{"t":152.4,"v":-26},{"t":156.7,"v":-1},{"t":161,"v":-11},{"t":165.2,"v":-1},{"t":169.4,"v":-1}],
"OBNPZs":[{"t":0,"v":-1},{"t":24.9,"v":19},{"t":32,"v":-21},{"t":40.5,"v":39},{"t":51.8,"v":-51},{"t":60.3,"v":29},{"t":66,"v":19},{"t":70.3,"v":-1},{"t":74.5,"v":49},{"t":80.2,"v":79},{"t":84.4,"v":39},{"t":88.1,"v":-56},{"t":92.9,"v":-31},{"t":98.6,"v":-21},{"t":105.7,"v":-6},{"t":111.3,"v":-41},{"t":115.6,"v":-56},{"t":121.3,"v":-1},{"t":125.5,"v":19},{"t":129.8,"v":4},{"t":135.4,"v":-6},{"t":142.5,"v":9},{"t":151,"v":-1},{"t":159.5,"v":1},{"t":169.4,"v":-1}],
"ARUPZo":[{"t":0,"v":-1},{"t":13,"v":4},{"t":17.3,"v":19},{"t":21.5,"v":32},{"t":27.2,"v":14},{"t":31.4,"v":-24},{"t":34.3,"v":-31},{"t":38.5,"v":19},{"t":41.4,"v":39},{"t":45.6,"v":4},{"t":49.9,"v":-44},{"t":52.7,"v":-56},{"t":57,"v":-6},{"t":61.2,"v":44},{"t":64,"v":62},{"t":66.9,"v":52},{"t":69.7,"v":34},{"t":72.5,"v":69},{"t":75.4,"v":82},{"t":78.2,"v":92},{"t":81,"v":109},{"t":83.9,"v":84},{"t":86.7,"v":14},{"t":89,"v":-51},{"t":92.4,"v":-56},{"t":95.2,"v":-16},{"t":98,"v":4},{"t":100.9,"v":-6},{"t":104.3,"v":26},{"t":108,"v":14},{"t":110.8,"v":-16},{"t":115,"v":-61},{"t":119.3,"v":-36},{"t":123.5,"v":49},{"t":127.8,"v":24},{"t":132,"v":-26},{"t":134.8,"v":-36},{"t":139,"v":-6},{"t":143.3,"v":49},{"t":147.6,"v":4},{"t":151.8,"v":-26},{"t":156,"v":14},{"t":159,"v":24},{"t":163.2,"v":4},{"t":167.4,"v":-1}],
"ARUPZs":[{"t":0,"v":-1},{"t":15.9,"v":14},{"t":21.5,"v":29},{"t":28.6,"v":4},{"t":34.3,"v":-21},{"t":41.4,"v":34},{"t":47,"v":-6},{"t":52.7,"v":-58},{"t":59.8,"v":14},{"t":65.4,"v":34},{"t":69.7,"v":24},{"t":75.4,"v":64},{"t":79.6,"v":74},{"t":83.9,"v":64},{"t":86.7,"v":-6},{"t":91,"v":-86},{"t":95.2,"v":-51},{"t":99.4,"v":-21},{"t":102.3,"v":-36},{"t":106.5,"v":-6},{"t":110.8,"v":-41},{"t":115,"v":-71},{"t":120.7,"v":-16},{"t":126.4,"v":14},{"t":132,"v":-6},{"t":137.7,"v":4},{"t":143.3,"v":4},{"t":151.8,"v":4},{"t":167.4,"v":-1}],
"BRVKPZo":[{"t":0,"v":-1},{"t":13,"v":14},{"t":17.3,"v":24},{"t":21.5,"v":34},{"t":25.8,"v":4},{"t":30,"v":-41},{"t":35.7,"v":24},{"t":40.8,"v":54},{"t":45.6,"v":4},{"t":51.3,"v":-56},{"t":55.5,"v":-26},{"t":59.8,"v":44},{"t":64.6,"v":74},{"t":68.3,"v":54},{"t":71.1,"v":34},{"t":74,"v":79},{"t":77.6,"v":84},{"t":81,"v":109},{"t":83.9,"v":74},{"t":86.7,"v":-6},{"t":89,"v":-86},{"t":92.4,"v":-56},{"t":96.6,"v":14},{"t":99.4,"v":-1},{"t":103.7,"v":24},{"t":108,"v":14},{"t":112.2,"v":-26},{"t":115,"v":-66},{"t":119.3,"v":4},{"t":123,"v":79},{"t":126.4,"v":34},{"t":130.6,"v":14},{"t":134.8,"v":-6},{"t":139,"v":44},{"t":142.8,"v":106},{"t":146.2,"v":74},{"t":150.4,"v":44},{"t":154.7,"v":24},{"t":158.9,"v":4},{"t":163.2,"v":-1},{"t":167.4,"v":-6}],
"BRVKPZs":[{"t":0,"v":-1},{"t":21.5,"v":29},{"t":30,"v":-36},{"t":40.8,"v":49},{"t":51.3,"v":-66},{"t":58.4,"v":24},{"t":64,"v":44},{"t":68.3,"v":24},{"t":73.1,"v":44},{"t":76.8,"v":79},{"t":81,"v":84},{"t":83.9,"v":64},{"t":86.7,"v":-6},{"t":89,"v":-116},{"t":93.8,"v":-36},{"t":99.4,"v":-56},{"t":105.1,"v":-16},{"t":109.4,"v":-46},{"t":113.6,"v":-71},{"t":117.8,"v":-51},{"t":122.1,"v":4},{"t":126.4,"v":24},{"t":130.6,"v":-1},{"t":137.7,"v":4},{"t":149,"v":4},{"t":160.3,"v":-1},{"t":167.4,"v":-6}]
},
"columns":3,
"spacing":0,
"bounds":"flush",
"resolve":{"scale":{"x":"independent","y":"independent"}},
"concat":[
{"width":244,"height":76,"layer":[{"data":{"name":"TLYPZo"},"mark":{"type":"line","color":"#111111","strokeWidth":1.8},"encoding":{"x":{"field":"t","type":"quantitative","scale":{"domain":[-37.4,170],"nice":false},"axis":null},"y":{"field":"v","type":"quantitative","scale":{"domain":[-96,132],"nice":false},"axis":null}}},{"data":{"name":"TLYPZs"},"mark":{"type":"line","color":"#e0301e","strokeWidth":1.4,"strokeDash":[1.6,1.6]},"encoding":{"x":{"field":"t","type":"quantitative"},"y":{"field":"v","type":"quantitative"}}},{"data":{"name":"lab"},"transform":[{"filter":"datum.p=='TLYPZ'"}],"mark":{"type":"text","font":"Liberation Serif","fontSize":19.5,"fontStyle":"italic"},"encoding":{"x":{"datum":0},"y":{"datum":77},"text":{"field":"p"}}},{"data":{"name":"lab"},"transform":[{"filter":"datum.p=='TLYPZ'"}],"mark":{"type":"text","font":"Liberation Sans","fontSize":13.5},"encoding":{"x":{"datum":0},"y":{"datum":28},"text":{"field":"a"}}},{"data":{"name":"lab"},"transform":[{"filter":"datum.p=='TLYPZ'"}],"mark":{"type":"text","font":"Liberation Serif","fontSize":13.5},"encoding":{"x":{"datum":0},"y":{"datum":-50},"text":{"field":"z"}}}]},
{"width":240,"height":76,"layer":[{"data":{"name":"TIXIPZo"},"mark":{"type":"line","color":"#111111","strokeWidth":1.8},"encoding":{"x":{"field":"t","type":"quantitative","scale":{"domain":[-34,170],"nice":false},"axis":null},"y":{"field":"v","type":"quantitative","scale":{"domain":[-96,132],"nice":false},"axis":null}}},{"data":{"name":"TIXIPZs"},"mark":{"type":"line","color":"#e0301e","strokeWidth":1.4,"strokeDash":[1.6,1.6]},"encoding":{"x":{"field":"t","type":"quantitative"},"y":{"field":"v","type":"quantitative"}}},{"data":{"name":"lab"},"transform":[{"filter":"datum.p=='TIXIPZ'"}],"mark":{"type":"text","font":"Liberation Serif","fontSize":19.5,"fontStyle":"italic"},"encoding":{"x":{"datum":0},"y":{"datum":77},"text":{"field":"p"}}},{"data":{"name":"lab"},"transform":[{"filter":"datum.p=='TIXIPZ'"}],"mark":{"type":"text","font":"Liberation Sans","fontSize":13.5},"encoding":{"x":{"datum":0},"y":{"datum":28},"text":{"field":"a"}}},{"data":{"name":"lab"},"transform":[{"filter":"datum.p=='TIXIPZ'"}],"mark":{"type":"text","font":"Liberation Serif","fontSize":13.5},"encoding":{"x":{"datum":0},"y":{"datum":-50},"text":{"field":"z"}}}]},
{"width":258,"height":76,"layer":[{"data":{"name":"BILLPZo"},"mark":{"type":"line","color":"#111111","strokeWidth":1.8},"encoding":{"x":{"field":"t","type":"quantitative","scale":{"domain":[-34.85,184.45],"nice":false},"axis":null},"y":{"field":"v","type":"quantitative","scale":{"domain":[-96,132],"nice":false},"axis":null}}},{"data":{"name":"BILLPZs"},"mark":{"type":"line","color":"#e0301e","strokeWidth":1.4,"strokeDash":[1.6,1.6]},"encoding":{"x":{"field":"t","type":"quantitative"},"y":{"field":"v","type":"quantitative"}}},{"data":{"name":"lab"},"transform":[{"filter":"datum.p=='BILLPZ'"}],"mark":{"type":"text","font":"Liberation Serif","fontSize":19.5,"fontStyle":"italic"},"encoding":{"x":{"datum":0},"y":{"datum":77},"text":{"field":"p"}}},{"data":{"name":"lab"},"transform":[{"filter":"datum.p=='BILLPZ'"}],"mark":{"type":"text","font":"Liberation Sans","fontSize":13.5},"encoding":{"x":{"datum":0},"y":{"datum":28},"text":{"field":"a"}}},{"data":{"name":"lab"},"transform":[{"filter":"datum.p=='BILLPZ'"}],"mark":{"type":"text","font":"Liberation Serif","fontSize":13.5},"encoding":{"x":{"datum":0},"y":{"datum":-50},"text":{"field":"z"}}}]},
{"width":244,"height":75,"layer":[{"data":{"name":"MA2PZo"},"mark":{"type":"line","color":"#111111","strokeWidth":1.8},"encoding":{"x":{"field":"t","type":"quantitative","scale":{"domain":[-37.4,170],"nice":false},"axis":null},"y":{"field":"v","type":"quantitative","scale":{"domain":[-96,129],"nice":false},"axis":null}}},{"data":{"name":"MA2PZs"},"mark":{"type":"line","color":"#e0301e","strokeWidth":1.4,"strokeDash":[1.6,1.6]},"encoding":{"x":{"field":"t","type":"quantitative"},"y":{"field":"v","type":"quantitative"}}},{"data":{"name":"lab"},"transform":[{"filter":"datum.p=='MA2PZ'"}],"mark":{"type":"text","font":"Liberation Serif","fontSize":19.5,"fontStyle":"italic"},"encoding":{"x":{"datum":0},"y":{"datum":77},"text":{"field":"p"}}},{"data":{"name":"lab"},"transform":[{"filter":"datum.p=='MA2PZ'"}],"mark":{"type":"text","font":"Liberation Sans","fontSize":13.5},"encoding":{"x":{"datum":0},"y":{"datum":28},"text":{"field":"a"}}},{"data":{"name":"lab"},"transform":[{"filter":"datum.p=='MA2PZ'"}],"mark":{"type":"text","font":"Liberation Serif","fontSize":13.5},"encoding":{"x":{"datum":0},"y":{"datum":-50},"text":{"field":"z"}}}]},
{"width":240,"height":75,"layer":[{"data":{"name":"PETPZo"},"mark":{"type":"line","color":"#111111","strokeWidth":1.8},"encoding":{"x":{"field":"t","type":"quantitative","scale":{"domain":[-34,170],"nice":false},"axis":null},"y":{"field":"v","type":"quantitative","scale":{"domain":[-96,129],"nice":false},"axis":null}}},{"data":{"name":"PETPZs"},"mark":{"type":"line","color":"#e0301e","strokeWidth":1.4,"strokeDash":[1.6,1.6]},"encoding":{"x":{"field":"t","type":"quantitative"},"y":{"field":"v","type":"quantitative"}}},{"data":{"name":"lab"},"transform":[{"filter":"datum.p=='PETPZ'"}],"mark":{"type":"text","font":"Liberation Serif","fontSize":19.5,"fontStyle":"italic"},"encoding":{"x":{"datum":0},"y":{"datum":77},"text":{"field":"p"}}},{"data":{"name":"lab"},"transform":[{"filter":"datum.p=='PETPZ'"}],"mark":{"type":"text","font":"Liberation Sans","fontSize":13.5},"encoding":{"x":{"datum":0},"y":{"datum":28},"text":{"field":"a"}}},{"data":{"name":"lab"},"transform":[{"filter":"datum.p=='PETPZ'"}],"mark":{"type":"text","font":"Liberation Serif","fontSize":13.5},"encoding":{"x":{"datum":0},"y":{"datum":-50},"text":{"field":"z"}}}]},
{"width":258,"height":75,"layer":[{"data":{"name":"MAJOPZo"},"mark":{"type":"line","color":"#111111","strokeWidth":1.8},"encoding":{"x":{"field":"t","type":"quantitative","scale":{"domain":[-34.85,184.45],"nice":false},"axis":null},"y":{"field":"v","type":"quantitative","scale":{"domain":[-96,129],"nice":false},"axis":null}}},{"data":{"name":"MAJOPZs"},"mark":{"type":"line","color":"#e0301e","strokeWidth":1.4,"strokeDash":[1.6,1.6]},"encoding":{"x":{"field":"t","type":"quantitative"},"y":{"field":"v","type":"quantitative"}}},{"data":{"name":"lab"},"transform":[{"filter":"datum.p=='MAJOPZ'"}],"mark":{"type":"text","font":"Liberation Serif","fontSize":19.5,"fontStyle":"italic"},"encoding":{"x":{"datum":0},"y":{"datum":77},"text":{"field":"p"}}},{"data":{"name":"lab"},"transform":[{"filter":"datum.p=='MAJOPZ'"}],"mark":{"type":"text","font":"Liberation Sans","fontSize":13.5},"encoding":{"x":{"datum":0},"y":{"datum":28},"text":{"field":"a"}}},{"data":{"name":"lab"},"transform":[{"filter":"datum.p=='MAJOPZ'"}],"mark":{"type":"text","font":"Liberation Serif","fontSize":13.5},"encoding":{"x":{"datum":0},"y":{"datum":-50},"text":{"field":"z"}}}]},
{"width":244,"height":75,"layer":[{"data":{"name":"MIDWPZo"},"mark":{"type":"line","color":"#111111","strokeWidth":1.8},"encoding":{"x":{"field":"t","type":"quantitative","scale":{"domain":[-37.4,170],"nice":false},"axis":null},"y":{"field":"v","type":"quantitative","scale":{"domain":[-96,129],"nice":false},"axis":null}}},{"data":{"name":"MIDWPZs"},"mark":{"type":"line","color":"#e0301e","strokeWidth":1.4,"strokeDash":[1.6,1.6]},"encoding":{"x":{"field":"t","type":"quantitative"},"y":{"field":"v","type":"quantitative"}}},{"data":{"name":"lab"},"transform":[{"filter":"datum.p=='MIDWPZ'"}],"mark":{"type":"text","font":"Liberation Serif","fontSize":19.5,"fontStyle":"italic"},"encoding":{"x":{"datum":0},"y":{"datum":77},"text":{"field":"p"}}},{"data":{"name":"lab"},"transform":[{"filter":"datum.p=='MIDWPZ'"}],"mark":{"type":"text","font":"Liberation Sans","fontSize":13.5},"encoding":{"x":{"datum":0},"y":{"datum":28},"text":{"field":"a"}}},{"data":{"name":"lab"},"transform":[{"filter":"datum.p=='MIDWPZ'"}],"mark":{"type":"text","font":"Liberation Serif","fontSize":13.5},"encoding":{"x":{"datum":0},"y":{"datum":-50},"text":{"field":"z"}}}]},
{"width":240,"height":75,"layer":[{"data":{"name":"GUMOPZo"},"mark":{"type":"line","color":"#111111","strokeWidth":1.8},"encoding":{"x":{"field":"t","type":"quantitative","scale":{"domain":[-34,170],"nice":false},"axis":null},"y":{"field":"v","type":"quantitative","scale":{"domain":[-96,129],"nice":false},"axis":null}}},{"data":{"name":"GUMOPZs"},"mark":{"type":"line","color":"#e0301e","strokeWidth":1.4,"strokeDash":[1.6,1.6]},"encoding":{"x":{"field":"t","type":"quantitative"},"y":{"field":"v","type":"quantitative"}}},{"data":{"name":"lab"},"transform":[{"filter":"datum.p=='GUMOPZ'"}],"mark":{"type":"text","font":"Liberation Serif","fontSize":19.5,"fontStyle":"italic"},"encoding":{"x":{"datum":0},"y":{"datum":77},"text":{"field":"p"}}},{"data":{"name":"lab"},"transform":[{"filter":"datum.p=='GUMOPZ'"}],"mark":{"type":"text","font":"Liberation Sans","fontSize":13.5},"encoding":{"x":{"datum":0},"y":{"datum":28},"text":{"field":"a"}}},{"data":{"name":"lab"},"transform":[{"filter":"datum.p=='GUMOPZ'"}],"mark":{"type":"text","font":"Liberation Serif","fontSize":13.5},"encoding":{"x":{"datum":0},"y":{"datum":-50},"text":{"field":"z"}}}]},
{"width":258,"height":75,"layer":[{"data":{"name":"CTAOPZo"},"mark":{"type":"line","color":"#111111","strokeWidth":1.8},"encoding":{"x":{"field":"t","type":"quantitative","scale":{"domain":[-34.85,184.45],"nice":false},"axis":null},"y":{"field":"v","type":"quantitative","scale":{"domain":[-96,129],"nice":false},"axis":null}}},{"data":{"name":"CTAOPZs"},"mark":{"type":"line","color":"#e0301e","strokeWidth":1.4,"strokeDash":[1.6,1.6]},"encoding":{"x":{"field":"t","type":"quantitative"},"y":{"field":"v","type":"quantitative"}}},{"data":{"name":"lab"},"transform":[{"filter":"datum.p=='CTAOPZ'"}],"mark":{"type":"text","font":"Liberation Serif","fontSize":19.5,"fontStyle":"italic"},"encoding":{"x":{"datum":0},"y":{"datum":77},"text":{"field":"p"}}},{"data":{"name":"lab"},"transform":[{"filter":"datum.p=='CTAOPZ'"}],"mark":{"type":"text","font":"Liberation Sans","fontSize":13.5},"encoding":{"x":{"datum":0},"y":{"datum":28},"text":{"field":"a"}}},{"data":{"name":"lab"},"transform":[{"filter":"datum.p=='CTAOPZ'"}],"mark":{"type":"text","font":"Liberation Serif","fontSize":13.5},"encoding":{"x":{"datum":0},"y":{"datum":-50},"text":{"field":"z"}}}]},
{"width":244,"height":75,"layer":[{"data":{"name":"WRABPZo"},"mark":{"type":"line","color":"#111111","strokeWidth":1.8},"encoding":{"x":{"field":"t","type":"quantitative","scale":{"domain":[-37.4,170],"nice":false},"axis":null},"y":{"field":"v","type":"quantitative","scale":{"domain":[-96,129],"nice":false},"axis":null}}},{"data":{"name":"WRABPZs"},"mark":{"type":"line","color":"#e0301e","strokeWidth":1.4,"strokeDash":[1.6,1.6]},"encoding":{"x":{"field":"t","type":"quantitative"},"y":{"field":"v","type":"quantitative"}}},{"data":{"name":"lab"},"transform":[{"filter":"datum.p=='WRABPZ'"}],"mark":{"type":"text","font":"Liberation Serif","fontSize":19.5,"fontStyle":"italic"},"encoding":{"x":{"datum":0},"y":{"datum":77},"text":{"field":"p"}}},{"data":{"name":"lab"},"transform":[{"filter":"datum.p=='WRABPZ'"}],"mark":{"type":"text","font":"Liberation Sans","fontSize":13.5},"encoding":{"x":{"datum":0},"y":{"datum":28},"text":{"field":"a"}}},{"data":{"name":"lab"},"transform":[{"filter":"datum.p=='WRABPZ'"}],"mark":{"type":"text","font":"Liberation Serif","fontSize":13.5},"encoding":{"x":{"datum":0},"y":{"datum":-50},"text":{"field":"z"}}}]},
{"width":240,"height":75,"layer":[{"data":{"name":"MBWAPZo"},"mark":{"type":"line","color":"#111111","strokeWidth":1.8},"encoding":{"x":{"field":"t","type":"quantitative","scale":{"domain":[-34,170],"nice":false},"axis":null},"y":{"field":"v","type":"quantitative","scale":{"domain":[-96,129],"nice":false},"axis":null}}},{"data":{"name":"MBWAPZs"},"mark":{"type":"line","color":"#e0301e","strokeWidth":1.4,"strokeDash":[1.6,1.6]},"encoding":{"x":{"field":"t","type":"quantitative"},"y":{"field":"v","type":"quantitative"}}},{"data":{"name":"lab"},"transform":[{"filter":"datum.p=='MBWAPZ'"}],"mark":{"type":"text","font":"Liberation Serif","fontSize":19.5,"fontStyle":"italic"},"encoding":{"x":{"datum":0},"y":{"datum":77},"text":{"field":"p"}}},{"data":{"name":"lab"},"transform":[{"filter":"datum.p=='MBWAPZ'"}],"mark":{"type":"text","font":"Liberation Sans","fontSize":13.5},"encoding":{"x":{"datum":0},"y":{"datum":28},"text":{"field":"a"}}},{"data":{"name":"lab"},"transform":[{"filter":"datum.p=='MBWAPZ'"}],"mark":{"type":"text","font":"Liberation Serif","fontSize":13.5},"encoding":{"x":{"datum":0},"y":{"datum":-50},"text":{"field":"z"}}}]},
{"width":258,"height":75,"layer":[{"data":{"name":"NWAOPZo"},"mark":{"type":"line","color":"#111111","strokeWidth":1.8},"encoding":{"x":{"field":"t","type":"quantitative","scale":{"domain":[-34.85,184.45],"nice":false},"axis":null},"y":{"field":"v","type":"quantitative","scale":{"domain":[-96,129],"nice":false},"axis":null}}},{"data":{"name":"NWAOPZs"},"mark":{"type":"line","color":"#e0301e","strokeWidth":1.4,"strokeDash":[1.6,1.6]},"encoding":{"x":{"field":"t","type":"quantitative"},"y":{"field":"v","type":"quantitative"}}},{"data":{"name":"lab"},"transform":[{"filter":"datum.p=='NWAOPZ'"}],"mark":{"type":"text","font":"Liberation Serif","fontSize":19.5,"fontStyle":"italic"},"encoding":{"x":{"datum":0},"y":{"datum":77},"text":{"field":"p"}}},{"data":{"name":"lab"},"transform":[{"filter":"datum.p=='NWAOPZ'"}],"mark":{"type":"text","font":"Liberation Sans","fontSize":13.5},"encoding":{"x":{"datum":0},"y":{"datum":28},"text":{"field":"a"}}},{"data":{"name":"lab"},"transform":[{"filter":"datum.p=='NWAOPZ'"}],"mark":{"type":"text","font":"Liberation Serif","fontSize":13.5},"encoding":{"x":{"datum":0},"y":{"datum":-50},"text":{"field":"z"}}}]},
{"width":244,"height":75,"layer":[{"data":{"name":"SBAPZo"},"mark":{"type":"line","color":"#111111","strokeWidth":1.8},"encoding":{"x":{"field":"t","type":"quantitative","scale":{"domain":[-37.4,170],"nice":false},"axis":null},"y":{"field":"v","type":"quantitative","scale":{"domain":[-96,129],"nice":false},"axis":null}}},{"data":{"name":"SBAPZs"},"mark":{"type":"line","color":"#e0301e","strokeWidth":1.4,"strokeDash":[1.6,1.6]},"encoding":{"x":{"field":"t","type":"quantitative"},"y":{"field":"v","type":"quantitative"}}},{"data":{"name":"lab"},"transform":[{"filter":"datum.p=='SBAPZ'"}],"mark":{"type":"text","font":"Liberation Serif","fontSize":19.5,"fontStyle":"italic"},"encoding":{"x":{"datum":0},"y":{"datum":77},"text":{"field":"p"}}},{"data":{"name":"lab"},"transform":[{"filter":"datum.p=='SBAPZ'"}],"mark":{"type":"text","font":"Liberation Sans","fontSize":13.5},"encoding":{"x":{"datum":0},"y":{"datum":28},"text":{"field":"a"}}},{"data":{"name":"lab"},"transform":[{"filter":"datum.p=='SBAPZ'"}],"mark":{"type":"text","font":"Liberation Serif","fontSize":13.5},"encoding":{"x":{"datum":0},"y":{"datum":-50},"text":{"field":"z"}}}]},
{"width":240,"height":75,"layer":[{"data":{"name":"CASYPZo"},"mark":{"type":"line","color":"#111111","strokeWidth":1.8},"encoding":{"x":{"field":"t","type":"quantitative","scale":{"domain":[-34,170],"nice":false},"axis":null},"y":{"field":"v","type":"quantitative","scale":{"domain":[-96,129],"nice":false},"axis":null}}},{"data":{"name":"CASYPZs"},"mark":{"type":"line","color":"#e0301e","strokeWidth":1.4,"strokeDash":[1.6,1.6]},"encoding":{"x":{"field":"t","type":"quantitative"},"y":{"field":"v","type":"quantitative"}}},{"data":{"name":"lab"},"transform":[{"filter":"datum.p=='CASYPZ'"}],"mark":{"type":"text","font":"Liberation Serif","fontSize":19.5,"fontStyle":"italic"},"encoding":{"x":{"datum":0},"y":{"datum":77},"text":{"field":"p"}}},{"data":{"name":"lab"},"transform":[{"filter":"datum.p=='CASYPZ'"}],"mark":{"type":"text","font":"Liberation Sans","fontSize":13.5},"encoding":{"x":{"datum":0},"y":{"datum":28},"text":{"field":"a"}}},{"data":{"name":"lab"},"transform":[{"filter":"datum.p=='CASYPZ'"}],"mark":{"type":"text","font":"Liberation Serif","fontSize":13.5},"encoding":{"x":{"datum":0},"y":{"datum":-50},"text":{"field":"z"}}}]},
{"width":258,"height":75,"layer":[{"data":{"name":"KMBOPZo"},"mark":{"type":"line","color":"#111111","strokeWidth":1.8},"encoding":{"x":{"field":"t","type":"quantitative","scale":{"domain":[-34.85,184.45],"nice":false},"axis":null},"y":{"field":"v","type":"quantitative","scale":{"domain":[-96,129],"nice":false},"axis":null}}},{"data":{"name":"KMBOPZs"},"mark":{"type":"line","color":"#e0301e","strokeWidth":1.4,"strokeDash":[1.6,1.6]},"encoding":{"x":{"field":"t","type":"quantitative"},"y":{"field":"v","type":"quantitative"}}},{"data":{"name":"lab"},"transform":[{"filter":"datum.p=='KMBOPZ'"}],"mark":{"type":"text","font":"Liberation Serif","fontSize":19.5,"fontStyle":"italic"},"encoding":{"x":{"datum":0},"y":{"datum":77},"text":{"field":"p"}}},{"data":{"name":"lab"},"transform":[{"filter":"datum.p=='KMBOPZ'"}],"mark":{"type":"text","font":"Liberation Sans","fontSize":13.5},"encoding":{"x":{"datum":0},"y":{"datum":28},"text":{"field":"a"}}},{"data":{"name":"lab"},"transform":[{"filter":"datum.p=='KMBOPZ'"}],"mark":{"type":"text","font":"Liberation Serif","fontSize":13.5},"encoding":{"x":{"datum":0},"y":{"datum":-50},"text":{"field":"z"}}}]},
{"width":244,"height":75,"layer":[{"data":{"name":"EILPZo"},"mark":{"type":"line","color":"#111111","strokeWidth":1.8},"encoding":{"x":{"field":"t","type":"quantitative","scale":{"domain":[-37.4,170],"nice":false},"axis":null},"y":{"field":"v","type":"quantitative","scale":{"domain":[-96,129],"nice":false},"axis":null}}},{"data":{"name":"EILPZs"},"mark":{"type":"line","color":"#e0301e","strokeWidth":1.4,"strokeDash":[1.6,1.6]},"encoding":{"x":{"field":"t","type":"quantitative"},"y":{"field":"v","type":"quantitative"}}},{"data":{"name":"lab"},"transform":[{"filter":"datum.p=='EILPZ'"}],"mark":{"type":"text","font":"Liberation Serif","fontSize":19.5,"fontStyle":"italic"},"encoding":{"x":{"datum":0},"y":{"datum":77},"text":{"field":"p"}}},{"data":{"name":"lab"},"transform":[{"filter":"datum.p=='EILPZ'"}],"mark":{"type":"text","font":"Liberation Sans","fontSize":13.5},"encoding":{"x":{"datum":0},"y":{"datum":28},"text":{"field":"a"}}},{"data":{"name":"lab"},"transform":[{"filter":"datum.p=='EILPZ'"}],"mark":{"type":"text","font":"Liberation Serif","fontSize":13.5},"encoding":{"x":{"datum":0},"y":{"datum":-50},"text":{"field":"z"}}}]},
{"width":240,"height":75,"layer":[{"data":{"name":"WDDPZo"},"mark":{"type":"line","color":"#111111","strokeWidth":1.8},"encoding":{"x":{"field":"t","type":"quantitative","scale":{"domain":[-34,170],"nice":false},"axis":null},"y":{"field":"v","type":"quantitative","scale":{"domain":[-96,129],"nice":false},"axis":null}}},{"data":{"name":"WDDPZs"},"mark":{"type":"line","color":"#e0301e","strokeWidth":1.4,"strokeDash":[1.6,1.6]},"encoding":{"x":{"field":"t","type":"quantitative"},"y":{"field":"v","type":"quantitative"}}},{"data":{"name":"lab"},"transform":[{"filter":"datum.p=='WDDPZ'"}],"mark":{"type":"text","font":"Liberation Serif","fontSize":19.5,"fontStyle":"italic"},"encoding":{"x":{"datum":0},"y":{"datum":77},"text":{"field":"p"}}},{"data":{"name":"lab"},"transform":[{"filter":"datum.p=='WDDPZ'"}],"mark":{"type":"text","font":"Liberation Sans","fontSize":13.5},"encoding":{"x":{"datum":0},"y":{"datum":28},"text":{"field":"a"}}},{"data":{"name":"lab"},"transform":[{"filter":"datum.p=='WDDPZ'"}],"mark":{"type":"text","font":"Liberation Serif","fontSize":13.5},"encoding":{"x":{"datum":0},"y":{"datum":-50},"text":{"field":"z"}}}]},
{"width":258,"height":75,"layer":[{"data":{"name":"MALTPZo"},"mark":{"type":"line","color":"#111111","strokeWidth":1.8},"encoding":{"x":{"field":"t","type":"quantitative","scale":{"domain":[-34.85,184.45],"nice":false},"axis":null},"y":{"field":"v","type":"quantitative","scale":{"domain":[-96,129],"nice":false},"axis":null}}},{"data":{"name":"MALTPZs"},"mark":{"type":"line","color":"#e0301e","strokeWidth":1.4,"strokeDash":[1.6,1.6]},"encoding":{"x":{"field":"t","type":"quantitative"},"y":{"field":"v","type":"quantitative"}}},{"data":{"name":"lab"},"transform":[{"filter":"datum.p=='MALTPZ'"}],"mark":{"type":"text","font":"Liberation Serif","fontSize":19.5,"fontStyle":"italic"},"encoding":{"x":{"datum":0},"y":{"datum":77},"text":{"field":"p"}}},{"data":{"name":"lab"},"transform":[{"filter":"datum.p=='MALTPZ'"}],"mark":{"type":"text","font":"Liberation Sans","fontSize":13.5},"encoding":{"x":{"datum":0},"y":{"datum":28},"text":{"field":"a"}}},{"data":{"name":"lab"},"transform":[{"filter":"datum.p=='MALTPZ'"}],"mark":{"type":"text","font":"Liberation Serif","fontSize":13.5},"encoding":{"x":{"datum":0},"y":{"datum":-50},"text":{"field":"z"}}}]},
{"width":244,"height":75,"layer":[{"data":{"name":"KWPPZo"},"mark":{"type":"line","color":"#111111","strokeWidth":1.8},"encoding":{"x":{"field":"t","type":"quantitative","scale":{"domain":[-37.4,170],"nice":false},"axis":null},"y":{"field":"v","type":"quantitative","scale":{"domain":[-96,129],"nice":false},"axis":null}}},{"data":{"name":"KWPPZs"},"mark":{"type":"line","color":"#e0301e","strokeWidth":1.4,"strokeDash":[1.6,1.6]},"encoding":{"x":{"field":"t","type":"quantitative"},"y":{"field":"v","type":"quantitative"}}},{"data":{"name":"lab"},"transform":[{"filter":"datum.p=='KWPPZ'"}],"mark":{"type":"text","font":"Liberation Serif","fontSize":19.5,"fontStyle":"italic"},"encoding":{"x":{"datum":0},"y":{"datum":77},"text":{"field":"p"}}},{"data":{"name":"lab"},"transform":[{"filter":"datum.p=='KWPPZ'"}],"mark":{"type":"text","font":"Liberation Sans","fontSize":13.5},"encoding":{"x":{"datum":0},"y":{"datum":28},"text":{"field":"a"}}},{"data":{"name":"lab"},"transform":[{"filter":"datum.p=='KWPPZ'"}],"mark":{"type":"text","font":"Liberation Serif","fontSize":13.5},"encoding":{"x":{"datum":0},"y":{"datum":-50},"text":{"field":"z"}}}]},
{"width":240,"height":75,"layer":[{"data":{"name":"SUWPZo"},"mark":{"type":"line","color":"#111111","strokeWidth":1.8},"encoding":{"x":{"field":"t","type":"quantitative","scale":{"domain":[-34,170],"nice":false},"axis":null},"y":{"field":"v","type":"quantitative","scale":{"domain":[-96,129],"nice":false},"axis":null}}},{"data":{"name":"SUWPZs"},"mark":{"type":"line","color":"#e0301e","strokeWidth":1.4,"strokeDash":[1.6,1.6]},"encoding":{"x":{"field":"t","type":"quantitative"},"y":{"field":"v","type":"quantitative"}}},{"data":{"name":"lab"},"transform":[{"filter":"datum.p=='SUWPZ'"}],"mark":{"type":"text","font":"Liberation Serif","fontSize":19.5,"fontStyle":"italic"},"encoding":{"x":{"datum":0},"y":{"datum":77},"text":{"field":"p"}}},{"data":{"name":"lab"},"transform":[{"filter":"datum.p=='SUWPZ'"}],"mark":{"type":"text","font":"Liberation Sans","fontSize":13.5},"encoding":{"x":{"datum":0},"y":{"datum":28},"text":{"field":"a"}}},{"data":{"name":"lab"},"transform":[{"filter":"datum.p=='SUWPZ'"}],"mark":{"type":"text","font":"Liberation Serif","fontSize":13.5},"encoding":{"x":{"datum":0},"y":{"datum":-50},"text":{"field":"z"}}}]},
{"width":258,"height":75,"layer":[{"data":{"name":"OBNPZo"},"mark":{"type":"line","color":"#111111","strokeWidth":1.8},"encoding":{"x":{"field":"t","type":"quantitative","scale":{"domain":[-34.85,184.45],"nice":false},"axis":null},"y":{"field":"v","type":"quantitative","scale":{"domain":[-96,129],"nice":false},"axis":null}}},{"data":{"name":"OBNPZs"},"mark":{"type":"line","color":"#e0301e","strokeWidth":1.4,"strokeDash":[1.6,1.6]},"encoding":{"x":{"field":"t","type":"quantitative"},"y":{"field":"v","type":"quantitative"}}},{"data":{"name":"lab"},"transform":[{"filter":"datum.p=='OBNPZ'"}],"mark":{"type":"text","font":"Liberation Serif","fontSize":19.5,"fontStyle":"italic"},"encoding":{"x":{"datum":0},"y":{"datum":77},"text":{"field":"p"}}},{"data":{"name":"lab"},"transform":[{"filter":"datum.p=='OBNPZ'"}],"mark":{"type":"text","font":"Liberation Sans","fontSize":13.5},"encoding":{"x":{"datum":0},"y":{"datum":28},"text":{"field":"a"}}},{"data":{"name":"lab"},"transform":[{"filter":"datum.p=='OBNPZ'"}],"mark":{"type":"text","font":"Liberation Serif","fontSize":13.5},"encoding":{"x":{"datum":0},"y":{"datum":-50},"text":{"field":"z"}}}]},
{"width":244,"height":95,"layer":[{"data":{"name":"ARUPZo"},"mark":{"type":"line","color":"#111111","strokeWidth":1.8},"encoding":{"x":{"field":"t","type":"quantitative","scale":{"domain":[-37.4,170],"nice":false},"axis":null},"y":{"field":"v","type":"quantitative","scale":{"domain":[-156,129],"nice":false},"axis":null}}},{"data":{"name":"ARUPZs"},"mark":{"type":"line","color":"#e0301e","strokeWidth":1.4,"strokeDash":[1.6,1.6]},"encoding":{"x":{"field":"t","type":"quantitative"},"y":{"field":"v","type":"quantitative"}}},{"data":{"name":"lab"},"transform":[{"filter":"datum.p=='ARUPZ'"}],"mark":{"type":"text","font":"Liberation Serif","fontSize":19.5,"fontStyle":"italic"},"encoding":{"x":{"datum":0},"y":{"datum":77},"text":{"field":"p"}}},{"data":{"name":"lab"},"transform":[{"filter":"datum.p=='ARUPZ'"}],"mark":{"type":"text","font":"Liberation Sans","fontSize":13.5},"encoding":{"x":{"datum":0},"y":{"datum":28},"text":{"field":"a"}}},{"data":{"name":"lab"},"transform":[{"filter":"datum.p=='ARUPZ'"}],"mark":{"type":"text","font":"Liberation Serif","fontSize":13.5},"encoding":{"x":{"datum":0},"y":{"datum":-50},"text":{"field":"z"}}}]},
{"width":240,"height":95,"layer":[{"data":{"name":"BRVKPZo"},"mark":{"type":"line","color":"#111111","strokeWidth":1.8},"encoding":{"x":{"field":"t","type":"quantitative","scale":{"domain":[-34,170],"nice":false},"axis":null},"y":{"field":"v","type":"quantitative","scale":{"domain":[-156,129],"nice":false},"axis":null}}},{"data":{"name":"BRVKPZs"},"mark":{"type":"line","color":"#e0301e","strokeWidth":1.4,"strokeDash":[1.6,1.6]},"encoding":{"x":{"field":"t","type":"quantitative"},"y":{"field":"v","type":"quantitative"}}},{"data":{"name":"lab"},"transform":[{"filter":"datum.p=='BRVKPZ'"}],"mark":{"type":"text","font":"Liberation Serif","fontSize":19.5,"fontStyle":"italic"},"encoding":{"x":{"datum":0},"y":{"datum":77},"text":{"field":"p"}}},{"data":{"name":"lab"},"transform":[{"filter":"datum.p=='BRVKPZ'"}],"mark":{"type":"text","font":"Liberation Sans","fontSize":13.5},"encoding":{"x":{"datum":0},"y":{"datum":28},"text":{"field":"a"}}},{"data":{"name":"lab"},"transform":[{"filter":"datum.p=='BRVKPZ'"}],"mark":{"type":"text","font":"Liberation Serif","fontSize":13.5},"encoding":{"x":{"datum":0},"y":{"datum":-50},"text":{"field":"z"}}}]},
{"width":258,"height":95,"layer":[
{"data":{"name":"span"},"mark":{"type":"rule","color":"black","strokeWidth":2},"encoding":{"x":{"field":"a","type":"quantitative","scale":{"domain":[-34.85,184.45],"nice":false},"axis":null},"x2":{"field":"b"},"y":{"datum":-6,"type":"quantitative","scale":{"domain":[-156,129],"nice":false},"axis":null}}},
{"data":{"name":"bar"},"mark":{"type":"rule","color":"black","strokeWidth":2},"encoding":{"x":{"field":"tk","type":"quantitative"},"y":{"datum":-6},"y2":{"datum":15}}},
{"data":{"name":"bar"},"mark":{"type":"text","font":"Liberation Sans","fontSize":16.5,"fontWeight":"normal"},"encoding":{"x":{"field":"tk","type":"quantitative"},"y":{"datum":-63},"text":{"field":"lab"}}},
{"data":{"name":"ax"},"mark":{"type":"text","font":"Liberation Sans","fontSize":18.5,"fontWeight":"normal"},"encoding":{"x":{"datum":85},"y":{"datum":-126},"text":{"field":"s"}}},
{"data":{"name":"cr"},"transform":[{"filter":"datum.n==1"}],"mark":{"type":"text","font":"Liberation Serif","fontSize":9.3},"encoding":{"x":{"datum":72},"y":{"datum":126},"text":{"field":"s"}}},
{"data":{"name":"cr"},"transform":[{"filter":"datum.n==2"}],"mark":{"type":"text","font":"Liberation Serif","fontSize":9.3},"encoding":{"x":{"datum":72},"y":{"datum":96},"text":{"field":"s"}}},
{"data":{"name":"cr"},"transform":[{"filter":"datum.n==3"}],"mark":{"type":"text","font":"Liberation Serif","fontSize":9.3},"encoding":{"x":{"datum":72},"y":{"datum":66},"text":{"field":"s"}}}
]}
]
}
